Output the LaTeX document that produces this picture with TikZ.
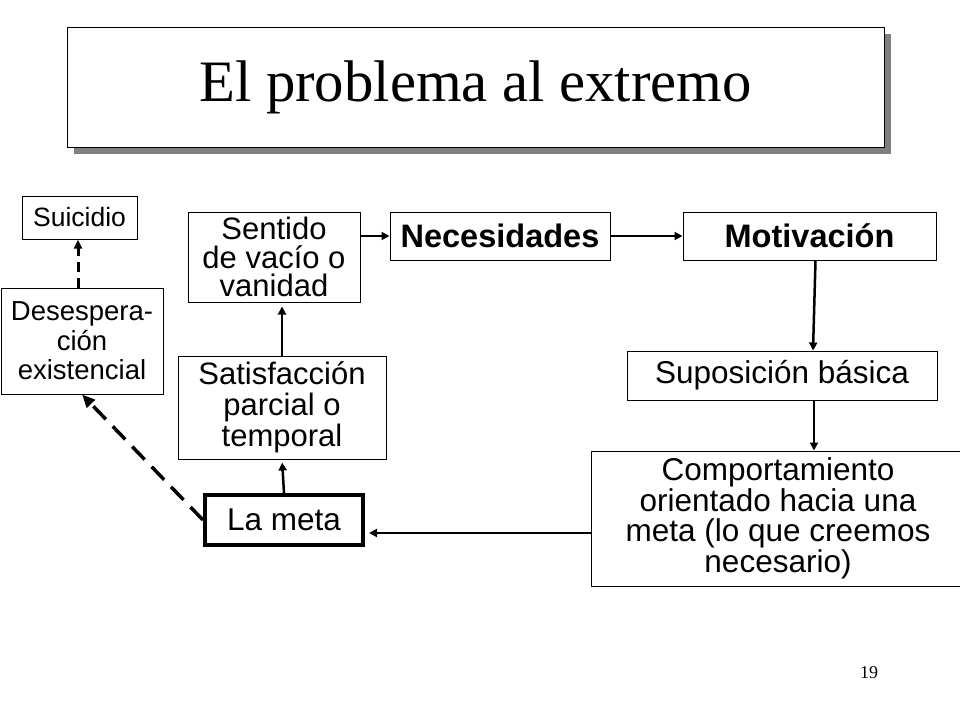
\documentclass[tikz,border=0pt]{standalone}
\usepackage{fontspec}
\setmainfont{Liberation Sans}
\newfontfamily\titlefont{Liberation Serif}
\usepackage{tikz}
\usetikzlibrary{positioning,arrows.meta,shadows}
\tikzstyle{flow_box}=[draw=black, line width=1pt, align=center, inner sep=0pt, font=\fontsize{31.5}{30}\selectfont]
\tikzstyle{title_box}=[draw=black, line width=1pt, fill=white, inner sep=0pt, drop shadow={shadow xshift=7pt, shadow yshift=-7pt, fill=gray, opacity=1}, font=\titlefont\fontsize{58.7}{60}\selectfont]
\tikzstyle{flow_edge}=[-{Triangle[length=8pt,width=8pt]}, line width=2.5pt, draw=black]
\tikzstyle{dash_edge}=[-{Triangle[length=13pt,width=11pt]}, line width=3.5pt, dash pattern=on 18pt off 10pt, draw=black]
\tikzstyle{small_dash_edge}=[-{Triangle[length=9pt,width=8pt]}, line width=3pt, dash pattern=on 10pt off 6pt, draw=black]

\begin{document}
\begin{tikzpicture}[x=1pt, y=-1pt]
        \useasboundingbox (0, 0) rectangle (960, 720);
        \node [title_box, minimum width=817pt, minimum height=120pt] (0) at (475.5, 87) {El problema al extremo};
        \node [flow_box, minimum width=115pt, minimum height=43pt, font=\fontsize{26.5}{26}\selectfont] (1) at (79.5, 217.5) {Suicidio};
        \node [flow_box, minimum width=162pt, minimum height=106pt, font=\fontsize{27.5}{29.5}\selectfont] (2) at (82, 341) {Desespera-\\ción\\existencial};
        \node [flow_box, minimum width=172pt, minimum height=90pt, font=\fontsize{31}{28.5}\selectfont] (3) at (274, 257) {Sentido\\de vacío o\\vanidad};
        \node [flow_box, minimum width=220pt, minimum height=48pt, font=\bfseries\fontsize{32.5}{30}\selectfont] (4) at (500, 236) {Necesidades};
        \node [flow_box, minimum width=253pt, minimum height=48pt, font=\bfseries\fontsize{32.5}{30}\selectfont] (5) at (809.5, 236) {Motivación};
        \node [flow_box, minimum width=310pt, minimum height=49pt] (6) at (782, 375.5) {Suposición básica};
        \node [flow_box, minimum width=208pt, minimum height=103pt, font=\fontsize{31}{31}\selectfont] (7) at (282, 407.5) {Satisfacción\\parcial o\\temporal};
        \node [flow_box, line width=4pt, minimum width=158pt, minimum height=50pt] (8) at (284, 520) {La meta};
        \node [flow_box, minimum width=374pt, minimum height=135pt, font=\fontsize{31.5}{30.5}\selectfont] (9) at (778, 518.5) {Comportamiento\\orientado hacia una\\meta (lo que creemos\\necesario)};
        \node [font=\titlefont\fontsize{18}{18}\selectfont] (10) at (869, 673) {19};
        \draw[style={flow_edge}, line width=2pt]{} (3.east |- 4.west) to (4.west);
        \draw[style={flow_edge}]{} (4.east) to (5.west);
        \draw[style={flow_edge}]{} ([xshift=6pt]5.south) to ([xshift=31pt]6.north);
        \draw[style={flow_edge}]{} ([xshift=32pt]6.south) to ([xshift=32pt]6.south |- 9.north);
        \draw[style={flow_edge}, shorten >=4pt]{} ([yshift=-14.5pt]9.west) to ([yshift=-13pt]8.east);
        \draw[style={flow_edge}, shorten >=3pt]{} (8.north) to (7.south);
        \draw[style={flow_edge}, shorten >=4pt]{} (7.north) to (7.north |- 3.south);
        \draw[style={dash_edge}]{} (8.west) to (2.south);
        \draw[style={small_dash_edge}]{} ([xshift=-4pt]2.north) to ([xshift=-4pt]2.north |- 1.south);
    \end{tikzpicture}
\end{document}
